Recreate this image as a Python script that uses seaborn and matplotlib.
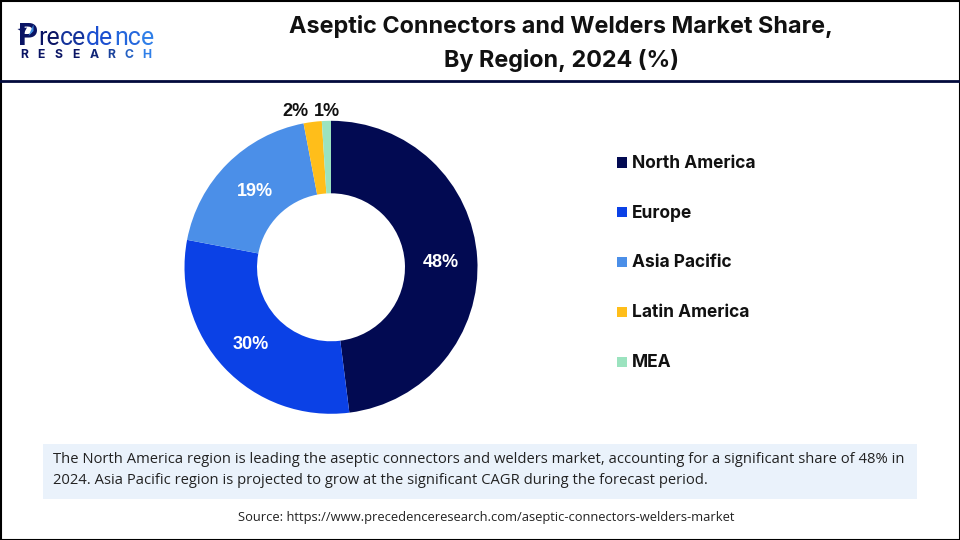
import numpy as np
import pandas as pd
import seaborn as sns
import matplotlib.pyplot as plt
from matplotlib.patches import Polygon, Rectangle

regions = ["North America", "Europe", "Asia Pacific", "Latin America", "MEA"]
shares = [48, 30, 19, 2, 1]
colors = ["#020A52", "#0B41E6", "#4B8FE8", "#FFBE1A", "#9BE3BF"]
title_lines = ["Aseptic Connectors and Welders Market Share,", "By Region, 2024 (%)"]
note_lines = [
    "The North America region is leading the aseptic connectors and welders market, accounting for a significant share of 48% in",
    "2024. Asia Pacific region is projected to grow at the significant CAGR during the forecast period.",
]
source = "Source: https://www.precedenceresearch.com/aseptic-connectors-welders-market"
logo_chunks = ["re", "ce", "de", "nc", "e"]
logo_sub = "RESEARCH"

sns.set_theme(style="white")
palette = sns.color_palette(colors)

fig = plt.figure(figsize=(9.6, 5.4), dpi=100, facecolor="white")

# overlay in pixel coordinates for the header, boxes and legend
bg = fig.add_axes([0, 0, 1, 1])
bg.set_xlim(0, 960)
bg.set_ylim(540, 0)
bg.axis("off")

bg.add_patch(Rectangle((0.5, 0.5), 959, 539, fill=False, ec="black", lw=1.5))
bg.plot([0, 960], [81, 81], color="#020A3C", lw=2)

# logo
bg.text(18.5, 45, "P", fontsize=22.5, fontweight="bold", family="Inter", color="#0A1464", va="baseline")
bg.add_patch(Polygon([(17.5, 29), (27, 27.5), (24, 33)], fc="#0A1464", ec="none", zorder=3))
bg.add_patch(Polygon([(28.5, 36), (33.5, 24.5), (33.5, 31)], fc="#3F8FE0", ec="none", zorder=3))
renderer = fig.canvas.get_renderer()
logo_cols = sns.blend_palette(["#0A1464", "#1B4FD0", "#2F7FE8"], len(logo_chunks))
logo_size = 17.9
pen = 38.0
for i, chunk in enumerate(logo_chunks):
    t = bg.text(pen, 45, chunk, fontsize=logo_size, family="Roboto", color=logo_cols[i], va="baseline")
    pen += t.get_window_extent(renderer).width + 0.3
sub_cols = sns.blend_palette(["#0A1464", "#0A1464", "#2F7FE8"], len(logo_sub))
for i, ch in enumerate(logo_sub):
    bg.text(20 + i * 17.4, 58.5, ch, fontsize=8.8, fontweight="bold", family="Inter", color=sub_cols[i], va="baseline")

# title
for i, line in enumerate(title_lines):
    bg.text(561, 27 + i * 33.5, line, fontsize=16.85, fontweight="bold", family="Inter",
            color="#111111", ha="center", va="center")

# donut
cx, cy, rad = 331, 267.3, 146.5
ax = fig.add_axes([(cx - rad) / 960, 1 - (cy + rad) / 540, 2 * rad / 960, 2 * rad / 540])
wedges, _ = ax.pie(shares, colors=palette, startangle=90, counterclock=False, radius=1,
                   wedgeprops={"width": 0.495, "linewidth": 0})
ax.set_xlim(-1, 1)
ax.set_ylim(-1, 1)
ax.set_aspect("equal")
ax.patch.set_alpha(0)

# percent labels from the wedge angles
nudges = {2: (2, 2), 3: (-16, 0), 4: (1, 2)}
for i, w in enumerate(wedges):
    ang = np.deg2rad((w.theta1 + w.theta2) / 2)
    r = 0.75 if shares[i] > 5 else 1.075
    dx, dy = nudges.get(i, (0, 2))
    px = cx + r * rad * np.cos(ang) + dx
    py = cy - r * rad * np.sin(ang) + dy
    bg.text(px, py, f"{shares[i]}%", fontsize=13, fontweight="bold", family="Liberation Sans",
            color="white" if shares[i] > 5 else "#111111", ha="center", va="center", zorder=5)
bg.set_zorder(2)
bg.patch.set_alpha(0)

# legend
legend_df = pd.DataFrame({"region": regions, "x": 622, "y": 162.5 + np.arange(len(regions)) * 49.8})
sns.scatterplot(data=legend_df, x="x", y="y", hue="region", palette=palette, marker="s", s=52,
                linewidth=0, legend=False, ax=bg)
bg.set_xlim(0, 960)
bg.set_ylim(540, 0)
bg.axis("off")
for _, row in legend_df.iterrows():
    bg.text(632, row["y"] + 0.8, row["region"], fontsize=12.5, fontweight="bold", family="Inter",
            color="#111111", va="center")

# callout
bg.add_patch(Rectangle((43, 444), 874, 55, fc="#EAF2FB", ec="none"))
for i, line in enumerate(note_lines):
    bg.text(53, 459.5 + i * 20.5, line, fontsize=10.6, family="Open Sans", color="#222222", va="center")

bg.text(486, 517.5, source, fontsize=9.25, family="Open Sans", color="#222222", ha="center", va="center")

fig.savefig("out.png", dpi=100)
